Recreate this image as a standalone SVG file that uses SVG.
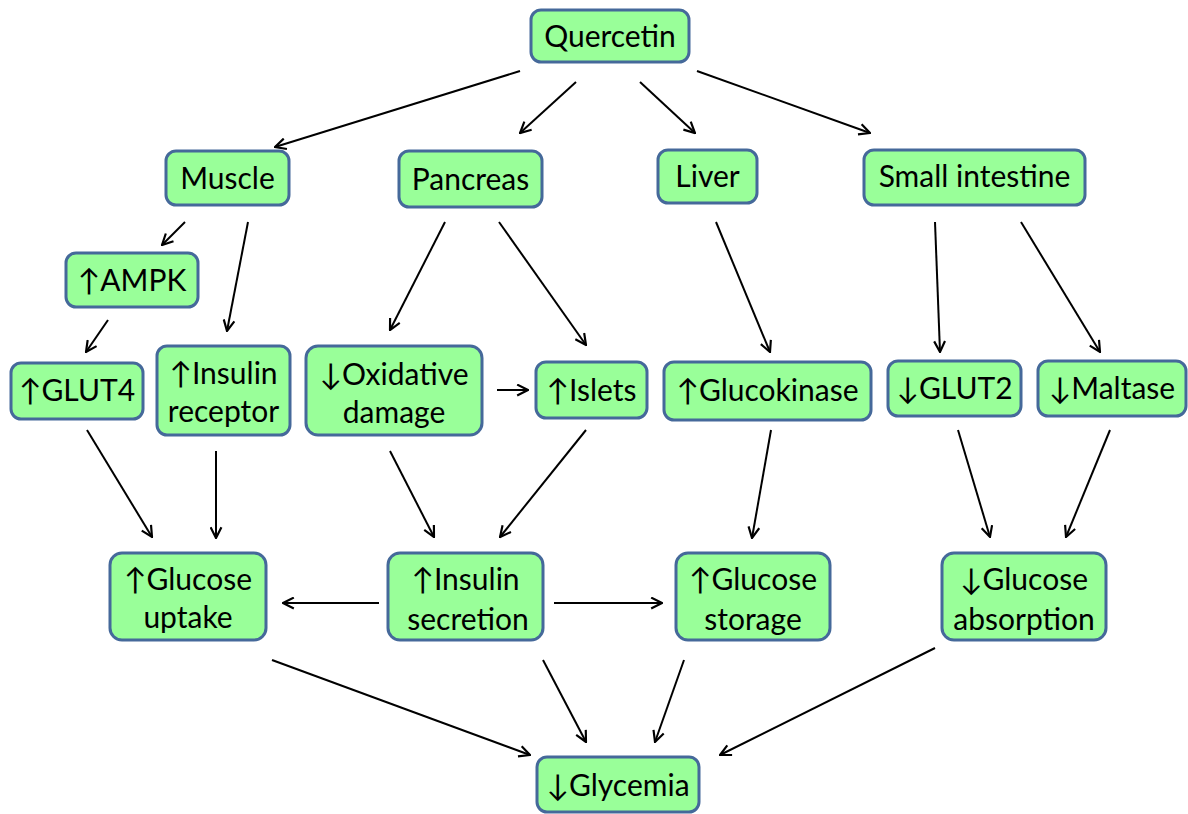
<svg xmlns="http://www.w3.org/2000/svg" width="1188" height="814" viewBox="0 0 1188 814">
<defs>
<marker id="ah" viewBox="0 0 12 12" refX="11" refY="6" markerWidth="13" markerHeight="13" markerUnits="userSpaceOnUse" orient="auto">
<path d="M1,1 L11,6 L1,11" fill="none" stroke="#000" stroke-width="2"/>
</marker>
<style>
.n rect{fill:#99FF99;stroke:#45699A;stroke-width:3}
.n text{font-family:Lato,"Open Sans","Liberation Sans",sans-serif;font-size:30px;fill:#000;text-anchor:middle}
#edges line{stroke:#000;stroke-width:2;marker-end:url(#ah)}
</style>
</defs>
<rect width="1188" height="814" fill="#fff"/>
<g id="edges">
<line x1="520" y1="71" x2="275" y2="147"/>
<line x1="576" y1="82" x2="520" y2="133"/>
<line x1="640" y1="82" x2="695" y2="133"/>
<line x1="697" y1="71" x2="870" y2="133"/>
<line x1="185" y1="222" x2="162" y2="245"/>
<line x1="248" y1="222" x2="227" y2="331"/>
<line x1="445" y1="222" x2="390" y2="330"/>
<line x1="499" y1="222" x2="586" y2="345"/>
<line x1="716" y1="222" x2="770" y2="352"/>
<line x1="935" y1="222" x2="940" y2="352"/>
<line x1="1021" y1="222" x2="1100" y2="352"/>
<line x1="108" y1="320" x2="86" y2="352"/>
<line x1="497" y1="390" x2="528" y2="390"/>
<line x1="87" y1="430" x2="152" y2="537"/>
<line x1="216" y1="451" x2="216" y2="538"/>
<line x1="390" y1="451" x2="434" y2="537"/>
<line x1="586" y1="430" x2="500" y2="537"/>
<line x1="771" y1="430" x2="752" y2="538"/>
<line x1="958" y1="430" x2="990" y2="537"/>
<line x1="1110" y1="430" x2="1066" y2="537"/>
<line x1="379" y1="603" x2="283" y2="603"/>
<line x1="554" y1="603" x2="662" y2="603"/>
<line x1="272" y1="660" x2="530" y2="755"/>
<line x1="543" y1="660" x2="586" y2="742"/>
<line x1="684" y1="660" x2="655" y2="742"/>
<line x1="935" y1="648" x2="720" y2="755"/>
</g>
<g id="quercetin" class="n"><rect x="531" y="10" width="158" height="52" rx="10"/><text x="610" y="47">Quercetin</text></g>
<g id="muscle" class="n"><rect x="166" y="151" width="123" height="54" rx="10"/><text x="227.5" y="189">Muscle</text></g>
<g id="pancreas" class="n"><rect x="399" y="151" width="143" height="56" rx="10"/><text x="470.5" y="190">Pancreas</text></g>
<g id="liver" class="n"><rect x="658" y="150" width="99" height="53" rx="10"/><text x="707.5" y="187">Liver</text></g>
<g id="small-intestine" class="n"><rect x="864" y="150" width="221" height="55" rx="10"/><text x="974.5" y="187">Small intestine</text></g>
<g id="ampk" class="n"><rect x="66" y="253" width="132" height="54" rx="10"/><text x="132" y="291">↑AMPK</text></g>
<g id="glut4" class="n"><rect x="11" y="363" width="132" height="56" rx="10"/><text x="77" y="401">↑GLUT4</text></g>
<g id="insulin-receptor" class="n"><rect x="157" y="346" width="133" height="89" rx="10"/><text x="223.5" y="384">↑Insulin</text><text x="223.5" y="422">receptor</text></g>
<g id="oxidative-damage" class="n"><rect x="306" y="346" width="176" height="89" rx="12"/><text x="394" y="385">↓Oxidative</text><text x="394" y="423">damage</text></g>
<g id="islets" class="n"><rect x="536" y="362" width="111" height="56" rx="10"/><text x="591.5" y="401">↑Islets</text></g>
<g id="glucokinase" class="n"><rect x="664" y="362" width="207" height="58" rx="10"/><text x="767.5" y="401">↑Glucokinase</text></g>
<g id="glut2" class="n"><rect x="888" y="361" width="133" height="55" rx="10"/><text x="954.5" y="399">↓GLUT2</text></g>
<g id="maltase" class="n"><rect x="1038" y="361" width="148" height="55" rx="10"/><text x="1112" y="399">↓Maltase</text></g>
<g id="glucose-uptake" class="n"><rect x="110" y="553" width="156" height="87" rx="12"/><text x="188" y="590">↑Glucose</text><text x="188" y="628">uptake</text></g>
<g id="insulin-secretion" class="n"><rect x="388" y="553" width="155" height="87" rx="12"/><text x="465.5" y="590">↑Insulin</text><text x="468" y="630">secretion</text></g>
<g id="glucose-storage" class="n"><rect x="676" y="553" width="154" height="87" rx="12"/><text x="753" y="590">↑Glucose</text><text x="753" y="630">storage</text></g>
<g id="glucose-absorption" class="n"><rect x="942" y="553" width="164" height="87" rx="12"/><text x="1024" y="590">↓Glucose</text><text x="1024" y="630">absorption</text></g>
<g id="glycemia" class="n"><rect x="537" y="757" width="162" height="55" rx="10"/><text x="618" y="796">↓Glycemia</text></g>
</svg>
